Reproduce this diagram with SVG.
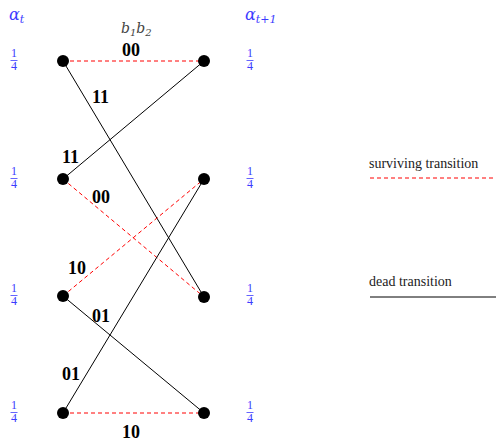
<svg xmlns="http://www.w3.org/2000/svg" width="496" height="441" viewBox="0 0 496 441">
<style>
.n{fill:#000}
.dead{stroke:#000;stroke-width:1;fill:none}
.surv{stroke:#f00;stroke-width:1;stroke-dasharray:4,3;fill:none}
.lbl{font-family:"Liberation Serif",serif;font-weight:bold;font-size:18px;fill:#000}
.frac{font-family:"Liberation Serif",serif;font-size:12px;fill:#3c3cff;text-anchor:middle}
.alpha{font-family:"DejaVu Serif","Liberation Serif",serif;font-style:italic;font-size:16px;fill:#3c3cff}
.leg{font-family:"Liberation Serif",serif;font-size:14px;fill:#222}
</style>
<rect width="496" height="441" fill="#fff"/>
<g id="connectors">
<line class="surv" x1="63" y1="61" x2="204" y2="61"/>
<line class="dead" x1="63" y1="61" x2="204" y2="297"/>
<line class="dead" x1="63" y1="179" x2="204" y2="61"/>
<line class="surv" x1="63" y1="179" x2="204" y2="297"/>
<line class="surv" x1="63" y1="296" x2="204" y2="179"/>
<line class="dead" x1="63" y1="296" x2="204" y2="413"/>
<line class="dead" x1="63" y1="413" x2="204" y2="179"/>
<line class="surv" x1="63" y1="413" x2="204" y2="413"/>
<text class="lbl" x="122" y="56">00</text>
<text class="lbl" x="92" y="103">11</text>
<text class="lbl" x="62" y="163">11</text>
<text class="lbl" x="92" y="203">00</text>
<text class="lbl" x="68" y="274">10</text>
<text class="lbl" x="92" y="322">01</text>
<text class="lbl" x="62" y="380">01</text>
<text class="lbl" x="122" y="438">10</text>
</g>
<g id="L1"><circle class="n" cx="63" cy="61" r="6"/></g>
<g id="L2"><circle class="n" cx="63" cy="179" r="6"/></g>
<g id="L3"><circle class="n" cx="63" cy="296" r="6"/></g>
<g id="L4"><circle class="n" cx="63" cy="413" r="6"/></g>
<g id="R1"><circle class="n" cx="204" cy="61" r="6"/></g>
<g id="R2"><circle class="n" cx="204" cy="179" r="6"/></g>
<g id="R3"><circle class="n" cx="204" cy="297" r="6"/></g>
<g id="R4"><circle class="n" cx="204" cy="413" r="6"/></g>
<g id="headers">
<text class="alpha" x="9" y="20">α<tspan font-size="11" dy="3">t</tspan></text>
<text class="alpha" x="245" y="20">α<tspan font-size="11" dy="3">t+1</tspan></text>
<text x="121" y="33" font-family="DejaVu Serif,Liberation Serif,serif" font-style="italic" font-size="14" fill="#444">b<tspan font-size="10" dy="3">1</tspan><tspan dy="-3">b</tspan><tspan font-size="10" dy="3">2</tspan></text>
</g>
<g id="fracs">
<g transform="translate(14,0)">
<text class="frac" x="0" y="57">1</text><line x1="-3.5" y1="60.5" x2="3.5" y2="60.5" stroke="#3c3cff" stroke-width="0.8"/><text class="frac" x="0" y="70">4</text>
<text class="frac" x="0" y="175">1</text><line x1="-3.5" y1="178.5" x2="3.5" y2="178.5" stroke="#3c3cff" stroke-width="0.8"/><text class="frac" x="0" y="188">4</text>
<text class="frac" x="0" y="292">1</text><line x1="-3.5" y1="295.5" x2="3.5" y2="295.5" stroke="#3c3cff" stroke-width="0.8"/><text class="frac" x="0" y="305">4</text>
<text class="frac" x="0" y="409">1</text><line x1="-3.5" y1="412.5" x2="3.5" y2="412.5" stroke="#3c3cff" stroke-width="0.8"/><text class="frac" x="0" y="422">4</text>
</g>
<g transform="translate(250,0)">
<text class="frac" x="0" y="57">1</text><line x1="-3.5" y1="60.5" x2="3.5" y2="60.5" stroke="#3c3cff" stroke-width="0.8"/><text class="frac" x="0" y="70">4</text>
<text class="frac" x="0" y="175">1</text><line x1="-3.5" y1="178.5" x2="3.5" y2="178.5" stroke="#3c3cff" stroke-width="0.8"/><text class="frac" x="0" y="188">4</text>
<text class="frac" x="0" y="292">1</text><line x1="-3.5" y1="295.5" x2="3.5" y2="295.5" stroke="#3c3cff" stroke-width="0.8"/><text class="frac" x="0" y="305">4</text>
<text class="frac" x="0" y="409">1</text><line x1="-3.5" y1="412.5" x2="3.5" y2="412.5" stroke="#3c3cff" stroke-width="0.8"/><text class="frac" x="0" y="422">4</text>
</g>
</g>
<g id="legend">
<text class="leg" x="369" y="168">surviving transition</text>
<line class="surv" x1="370" y1="178" x2="496" y2="178"/>
<text class="leg" x="369" y="286">dead transition</text>
<line class="dead" x1="370" y1="297" x2="496" y2="297"/>
</g>
</svg>
